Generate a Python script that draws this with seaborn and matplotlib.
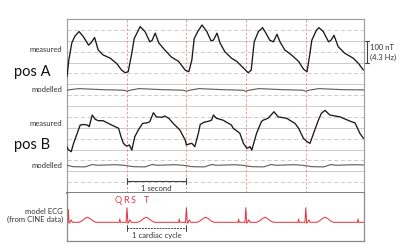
import numpy as np
import matplotlib
matplotlib.use("Agg")
import matplotlib.pyplot as plt
import matplotlib.transforms as mtransforms
import seaborn as sns

# ---- data (time in seconds, amplitude in grid units; 2 units = 100 nT) ----
beat_times = [1.0, 1.99, 2.98, 3.98]

meas_a_t = [0.0, 0.03, 0.08, 0.13, 0.2, 0.27, 0.36, 0.4, 0.46, 0.52, 0.6, 0.72, 0.83, 0.91, 0.97,
            1.02, 1.08, 1.12, 1.22, 1.3, 1.38, 1.42, 1.47, 1.53, 1.63, 1.74, 1.86, 1.97,
            2.03, 2.08, 2.12, 2.18, 2.25, 2.33, 2.4, 2.44, 2.5, 2.55, 2.63, 2.74, 2.83, 2.94,
            3.02, 3.07, 3.12, 3.19, 3.26, 3.3, 3.38, 3.44, 3.5, 3.55, 3.63, 3.74, 3.86, 3.94,
            4.0, 4.05, 4.08, 4.16, 4.2, 4.27, 4.36, 4.4, 4.45, 4.52, 4.63, 4.77, 4.86, 4.94]
meas_a_v = [10.7, 12.2, 13.8, 14.4, 14.85, 14.4, 13.6, 13.8, 14.3, 13.15, 12.7, 12.4, 11.9, 11.3, 11.06,
            11.15, 12.85, 14.2, 15.3, 14.85, 13.9, 14.05, 14.7, 13.8, 13.15, 12.5, 12.1, 11.3,
            11.15, 12.2, 14.2, 14.85, 15.45, 14.85, 14.0, 14.05, 14.7, 13.8, 13.0, 12.4, 12.1, 11.5,
            11.06, 11.3, 13.9, 14.85, 15.2, 14.85, 14.05, 13.9, 14.6, 13.9, 13.15, 12.7, 12.1, 11.4,
            11.15, 12.85, 14.05, 15.0, 15.2, 14.85, 13.9, 14.05, 14.5, 13.45, 12.85, 12.4, 11.9, 11.3]

mod_a_t = [0.0, 0.05, 0.2, 0.4, 0.6, 0.95, 1.0, 1.05, 1.2, 1.4, 1.6, 1.94, 1.99, 2.04, 2.2, 2.4,
           2.6, 2.93, 2.98, 3.03, 3.2, 3.4, 3.6, 3.93, 3.98, 4.03, 4.2, 4.4, 4.6, 4.95]
mod_a_v = [9.45, 9.5, 9.6, 9.55, 9.5, 9.45, 9.36, 9.45, 9.6, 9.55, 9.5, 9.45, 9.36, 9.45, 9.6, 9.55,
           9.5, 9.45, 9.36, 9.45, 9.6, 9.55, 9.5, 9.45, 9.36, 9.45, 9.6, 9.55, 9.5, 9.48]

meas_b_t = [0.0, 0.02, 0.07, 0.11, 0.16, 0.22, 0.27, 0.34, 0.37, 0.42, 0.47, 0.52, 0.6, 0.69, 0.8, 0.86,
            0.9, 0.94, 0.99, 1.04, 1.08, 1.13, 1.19, 1.26, 1.34, 1.38, 1.44, 1.49, 1.58, 1.63, 1.7,
            1.77, 1.88, 1.97, 1.99, 2.03, 2.08, 2.13, 2.19, 2.22, 2.28, 2.36, 2.41, 2.44, 2.49, 2.6,
            2.74, 2.77, 2.88, 2.94, 3.0, 3.05, 3.08, 3.16, 3.24, 3.27, 3.35, 3.45, 3.52, 3.66, 3.8,
            3.86, 3.94, 4.0, 4.05, 4.13, 4.19, 4.24, 4.3, 4.38, 4.55, 4.72, 4.8, 4.88, 4.94]
meas_b_v = [4.26, 4.0, 3.8, 4.57, 5.33, 6.25, 6.3, 6.25, 6.1, 7.17, 6.78, 6.65, 6.65, 6.4, 6.1, 5.95,
            5.18, 4.57, 4.32, 4.41, 3.95, 5.18, 5.8, 6.4, 6.46, 6.56, 7.38, 7.0, 6.96, 7.08, 6.85,
            6.4, 5.8, 4.87, 4.41, 4.5, 4.57, 4.26, 5.5, 6.3, 6.5, 6.6, 6.7, 7.17, 6.87, 6.7,
            6.25, 5.95, 5.5, 4.57, 4.1, 4.26, 3.95, 5.5, 6.56, 6.7, 6.87, 7.47, 7.0, 6.87, 6.4,
            5.95, 5.03, 4.72, 4.57, 5.8, 6.7, 7.33, 7.6, 7.17, 7.0, 6.6, 6.45, 5.5, 5.03]

mod_b_t = [0.0, 0.1, 0.3, 0.42, 0.5, 0.8, 0.95, 1.1, 1.3, 1.42, 1.5, 1.8, 1.94, 2.09, 2.29, 2.41,
           2.49, 2.79, 2.93, 3.08, 3.28, 3.4, 3.48, 3.78, 3.93, 4.08, 4.28, 4.4, 4.48, 4.78, 4.95]
mod_b_v = [2.55, 2.42, 2.4, 2.62, 2.55, 2.6, 2.55, 2.42, 2.4, 2.62, 2.55, 2.6, 2.55, 2.42, 2.4, 2.62,
           2.55, 2.6, 2.55, 2.42, 2.4, 2.62, 2.55, 2.6, 2.55, 2.42, 2.4, 2.62, 2.55, 2.6, 2.58]

ecg_t = [0.0, 0.012, 0.022, 0.035, 0.05, 0.07, 0.09, 0.2, 0.25, 0.3, 0.34, 0.38, 0.43, 0.48,
         0.87, 0.88, 0.89, 0.97, 0.985, 1.0, 1.015, 1.03, 1.05, 1.07, 1.18, 1.23, 1.28, 1.32, 1.36, 1.41, 1.46,
         1.86, 1.87, 1.88, 1.96, 1.975, 1.99, 2.005, 2.02, 2.04, 2.06, 2.17, 2.22, 2.27, 2.31, 2.35, 2.4, 2.45,
         2.85, 2.86, 2.87, 2.95, 2.965, 2.98, 2.995, 3.01, 3.03, 3.05, 3.16, 3.21, 3.26, 3.3, 3.34, 3.39, 3.44,
         3.85, 3.86, 3.87, 3.95, 3.965, 3.98, 3.995, 4.01, 4.03, 4.05, 4.16, 4.21, 4.26, 4.3, 4.34, 4.39, 4.44,
         4.84, 4.85, 4.86, 4.95]
ecg_v = [1.72, 1.68, 2.9, 1.64, 1.72, 1.95, 1.72, 1.72, 1.85, 2.08, 2.18, 2.08, 1.85, 1.72,
         1.72, 2.02, 1.72, 1.72, 1.68, 3.06, 1.64, 1.72, 1.95, 1.72, 1.72, 1.85, 2.08, 2.18, 2.08, 1.85, 1.72,
         1.72, 2.02, 1.72, 1.72, 1.68, 3.06, 1.64, 1.72, 1.95, 1.72, 1.72, 1.85, 2.08, 2.18, 2.08, 1.85, 1.72,
         1.72, 2.02, 1.72, 1.72, 1.68, 3.06, 1.64, 1.72, 1.95, 1.72, 1.72, 1.85, 2.08, 2.18, 2.08, 1.85, 1.72,
         1.72, 2.02, 1.72, 1.72, 1.68, 3.06, 1.64, 1.72, 1.95, 1.72, 1.72, 1.85, 2.08, 2.18, 2.08, 1.85, 1.72,
         1.72, 2.02, 1.72, 1.72]

# ---- style ----
sns.set_style("white")
plt.rcParams["font.family"] = ["Lato", "DejaVu Sans"]

GRID = "#c4c4c4"
BOX = "#9a9a9a"
RED = "#e23a44"
TXT = "#333333"

fig = plt.figure(figsize=(4.0, 2.52), dpi=100)
ax = fig.add_axes([67 / 400, 59 / 252, 297 / 400, 174 / 252])
ax2 = fig.add_axes([67 / 400, 11 / 252, 297 / 400, 48 / 252])

# grid of the upper panel: solid on even levels, dashed on odd levels
for lvl in range(1, 16):
    if lvl % 2 == 0:
        ax.axhline(lvl, color=GRID, lw=0.6, zorder=1)
    else:
        ax.axhline(lvl, color=GRID, lw=0.6, ls=(0, (5, 3)), zorder=1)

for bt in beat_times:
    ax.axvline(bt, color="#ec8a90", lw=0.6, ls=(0, (3, 2)), zorder=1)

sns.lineplot(x=meas_a_t, y=meas_a_v, ax=ax, color="#1a1a1a", lw=0.95, sort=False, estimator=None, zorder=3)
sns.lineplot(x=mod_a_t, y=mod_a_v, ax=ax, color="#5a5a5a", lw=0.8, sort=False, estimator=None, zorder=3)
sns.lineplot(x=meas_b_t, y=meas_b_v, ax=ax, color="#1a1a1a", lw=0.95, sort=False, estimator=None, zorder=3)
sns.lineplot(x=mod_b_t, y=mod_b_v, ax=ax, color="#5a5a5a", lw=0.8, sort=False, estimator=None, zorder=3)
sns.lineplot(x=ecg_t, y=ecg_v, ax=ax2, color=RED, lw=0.75, sort=False, estimator=None)

xmax = 4.95
for a in (ax, ax2):
    a.set_xlim(0, xmax)
    a.set_xticks([])
    a.set_yticks([])
    a.set_xlabel("")
    a.set_ylabel("")
ax.set_ylim(0, 16)
ax2.set_ylim(0, 48 / 10.875)

for s in ("top", "left", "right"):
    ax.spines[s].set_color(BOX)
    ax.spines[s].set_linewidth(0.8)
ax.spines["bottom"].set_color("#6a6a6a")
ax.spines["bottom"].set_linewidth(1.2)
ax2.spines["top"].set_visible(False)
for s in ("bottom", "left", "right"):
    ax2.spines[s].set_color("#8a8a8a")
    ax2.spines[s].set_linewidth(0.9)

# 1 second bar
t0, t1 = beat_times[0], beat_times[1]
ax.plot([t0, t1], [1.1, 1.1], color="#444444", lw=0.8)
ax.plot([t0, t0], [0.85, 1.35], color="#444444", lw=0.8)
ax.plot([t1, t1], [0.85, 1.35], color="#444444", lw=0.8)
ax.text((t0 + t1) / 2, 0.45, "1 second", ha="center", va="center", fontsize=5.5, color=TXT)

# 1 cardiac cycle bar
ax2.plot([t0, t1], [1.2, 1.2], color="#444444", lw=0.7, ls=(0, (2, 1)))
ax2.plot([t0, t0], [0.95, 1.45], color="#444444", lw=0.7)
ax2.plot([t1, t1], [0.95, 1.45], color="#444444", lw=0.7)
ax2.text((t0 + t1) / 2, 0.46, "1 cardiac cycle", ha="center", va="center", fontsize=5.5, color=TXT)

for lab, tx in zip(["Q", "R", "S", "T"], [0.86, 0.98, 1.1, 1.33]):
    ax2.text(tx, 3.68, lab, ha="center", va="center", fontsize=6.5, color=RED)

# left labels
def ftext(x, y, s, **kw):
    fig.text(x / 400, 1 - y / 252, s, **kw)

ftext(62, 49, "measured", ha="right", va="center", fontsize=5.5, color=TXT)
ftext(62, 89, "modelled", ha="right", va="center", fontsize=5.5, color=TXT)
ftext(62, 124, "measured", ha="right", va="center", fontsize=5.5, color=TXT)
ftext(62, 166, "modelled", ha="right", va="center", fontsize=5.5, color=TXT)
ftext(14, 72, "pos A", ha="left", va="center", fontsize=10.5, color="#111111")
ftext(14, 145, "pos B", ha="left", va="center", fontsize=10.5, color="#111111")
ftext(63, 211, "model ECG", ha="right", va="center", fontsize=5.5, color=TXT)
ftext(63, 219, "(from CINE data)", ha="right", va="center", fontsize=5.5, color=TXT)

# scale bar 100 nT (2 grid units), just right of the box
trans = mtransforms.blended_transform_factory(ax.transAxes, ax.transData)
bx = 300 / 297
ax.plot([bx, bx], [12, 14], color="#444444", lw=0.8, clip_on=False, transform=trans)
ax.plot([bx - 0.006, bx + 0.006], [14, 14], color="#444444", lw=0.8, clip_on=False, transform=trans)
ax.plot([bx - 0.006, bx + 0.006], [12, 12], color="#444444", lw=0.8, clip_on=False, transform=trans)
ftext(370.5, 47, "100 nT", ha="left", va="center", fontsize=5.5, color=TXT)
ftext(370.5, 57, "(4.3 Hz)", ha="left", va="center", fontsize=5.5, color=TXT)

fig.savefig("out.png", dpi=100)
